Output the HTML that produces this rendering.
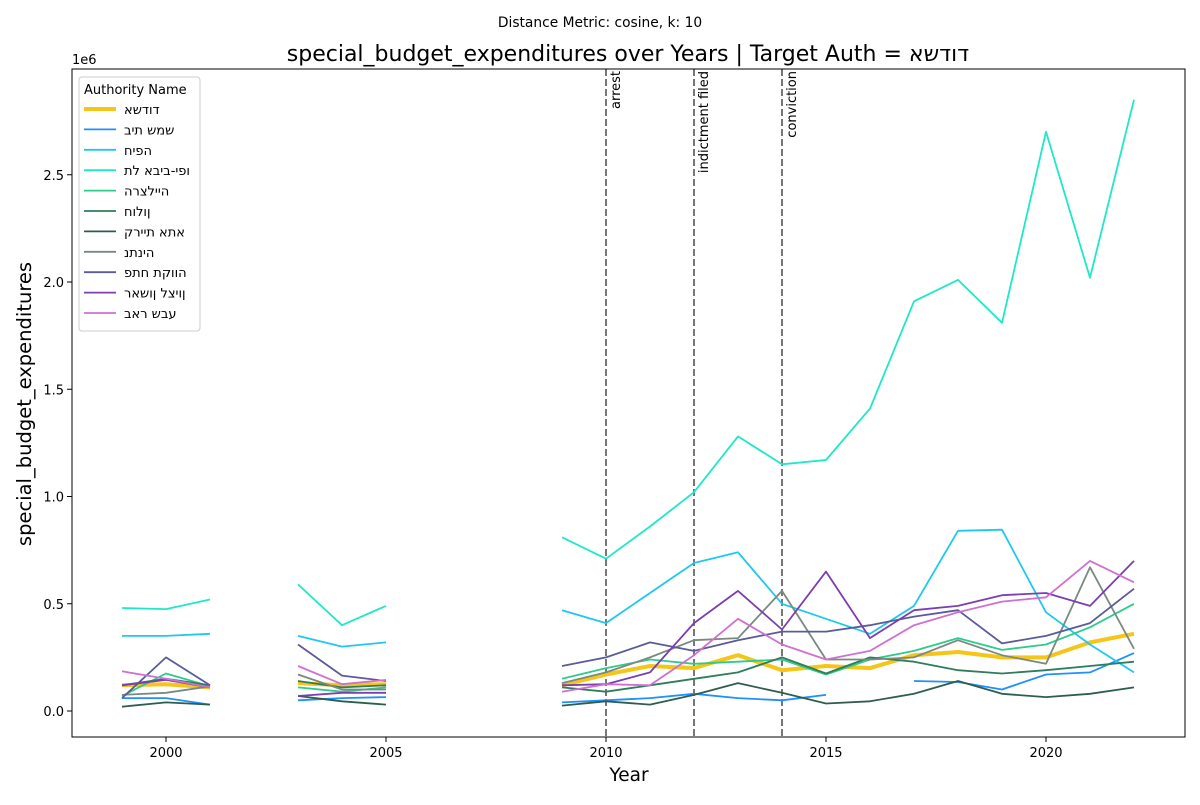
<!DOCTYPE html>
<html><head><meta charset="utf-8"><style>
body{margin:0;background:#fff;}
svg{font-family:"DejaVu Sans","Liberation Sans",sans-serif;}
.heb{unicode-bidi:bidi-override;direction:ltr;}
</style></head><body>
<svg id="chart" width="1200" height="800" xmlns="http://www.w3.org/2000/svg"></svg>
<script>
const years=[1999,2000,2001,2003,2004,2005,2009,2010,2011,2012,2013,2014,2015,2016,2017,2018,2019,2020,2021,2022];
const seriesNames=["אשדוד","בית שמש","חיפה","תל אביב-יפו","הרצלייה","חולון","קריית אתא","נתניה","פתח תקווה","ראשון לציון","באר שבע"];
const seriesColors=["#f5c518","#1e90ff","#1ec8f0","#1de9c8","#2ecc8a","#2e7d5b","#2f5e4e","#7a8a80","#5b5b9b","#7b3fb0","#d070d0"];
const ashdod=[0.12,0.125,0.11,0.13,0.12,0.125,0.12,0.17,0.21,0.20,0.26,0.19,0.21,0.20,0.26,0.275,0.25,0.25,0.32,0.36];
const beitShemesh=[0.06,0.06,0.03,0.05,0.06,0.065,0.04,0.05,0.06,0.08,0.06,0.05,0.075,null,0.14,0.135,0.10,0.17,0.18,0.27];
const haifa=[0.35,0.35,0.36,0.35,0.30,0.32,0.47,0.41,0.55,0.69,0.74,0.50,0.43,0.36,0.49,0.84,0.845,0.46,0.31,0.18];
const telAviv=[0.48,0.475,0.52,0.59,0.40,0.49,0.81,0.71,0.86,1.02,1.28,1.15,1.17,1.41,1.91,2.01,1.81,2.70,2.02,2.85];
const herzliya=[0.07,0.175,0.115,0.11,0.09,0.11,0.15,0.20,0.24,0.22,0.23,0.24,0.17,0.24,0.28,0.34,0.285,0.31,0.39,0.50];
const holon=[0.12,0.15,0.12,0.14,0.11,0.12,0.11,0.09,0.12,0.15,0.18,0.25,0.175,0.25,0.23,0.19,0.175,0.19,0.21,0.23];
const kiryatAta=[0.02,0.04,0.03,0.07,0.045,0.03,0.025,0.045,0.03,0.075,0.13,0.085,0.035,0.045,0.08,0.14,0.08,0.065,0.08,0.11];
const netanya=[0.075,0.085,0.115,0.17,0.10,0.10,0.13,0.18,0.25,0.33,0.34,0.56,0.24,0.24,0.25,0.33,0.26,0.22,0.67,0.29];
const petahTikva=[0.06,0.25,0.12,0.31,0.165,0.14,0.21,0.25,0.32,0.28,0.33,0.37,0.37,0.40,0.44,0.47,0.315,0.35,0.41,0.57];
const rishon=[0.12,0.145,0.11,0.07,0.085,0.085,0.12,0.125,0.18,0.41,0.56,0.38,0.65,0.34,0.47,0.49,0.54,0.55,0.49,0.70];
const beerSheva=[0.185,0.15,0.11,0.21,0.125,0.145,0.09,0.125,0.12,0.26,0.43,0.31,0.24,0.28,0.40,0.46,0.51,0.53,0.70,0.60];
const seriesValues=[ashdod,beitShemesh,haifa,telAviv,herzliya,holon,kiryatAta,netanya,petahTikva,rishon,beerSheva];
const xTicks=[2000,2005,2010,2015,2020];
const yTicks=[0,0.5,1.0,1.5,2.0,2.5];
const yTickLabels=["0.0","0.5","1.0","1.5","2.0","2.5"];
const events=[2010,2012,2014];
const eventLabels=["arrest","indictment filed","conviction"];

const svg=document.getElementById('chart');
const NS='http://www.w3.org/2000/svg';
const L=72,R=1185,T=69,B=737;
const xS=y=>166+(y-2000)*44;
const yS=v=>711-v*214.5;
function mk(tag,attrs,parent){const e=document.createElementNS(NS,tag);for(const k in attrs)e.setAttribute(k,attrs[k]);(parent||svg).appendChild(e);return e;}
function txt(s,attrs){const e=mk('text',attrs);e.textContent=s;return e;}

let t=txt("Distance Metric: cosine, k: 10",{x:600,y:27,'text-anchor':'middle','font-size':13.8});


t=txt("special_budget_expenditures over Years | Target Auth = אשדוד",{x:628,y:61,'text-anchor':'middle','font-size':22,'class':'heb'});


t=txt("1e6",{x:72,y:64,'font-size':13});



xTicks.forEach(v=>{
  const x=xS(v);
  const l=mk('line',{x1:x,x2:x,y1:B,y2:B+5,stroke:'#000'});
  
  
  const tt=txt(String(v),{x:x,y:B+20,'text-anchor':'middle','font-size':13});
  
  
});
yTicks.forEach((v,i)=>{
  const y=yS(v);
  const l=mk('line',{x1:L-5,x2:L,y1:y,y2:y,stroke:'#000'});
  
  
  const tt=txt(yTickLabels[i],{x:L-8,y:y+5,'text-anchor':'end','font-size':13});
  
  
});
t=txt("Year",{x:629,y:781,'text-anchor':'middle','font-size':18.5});


t=txt("special_budget_expenditures",{x:31,y:404,'text-anchor':'middle','font-size':19.5,transform:'rotate(-90 31 404)'});



events.forEach((ev,i)=>{
  const x=xS(ev);
  const l=mk('line',{x1:x,x2:x,y1:T,y2:B,stroke:'#777','stroke-width':2,'stroke-dasharray':'7,3'});
  
  
  const tt=txt(eventLabels[i],{x:x+14,y:T+2,'font-size':13,transform:`rotate(-90 ${x+14} ${T+2})`,'text-anchor':'end'});
  
  
});

seriesValues.forEach((vals,si)=>{
  let d='',pen=false;
  vals.forEach((v,i)=>{
    if(v===null||(i>0&&years[i]-years[i-1]>1)){pen=false;}
    if(v===null)return;
    d+=(pen?'L':'M')+xS(years[i]).toFixed(1)+','+yS(v).toFixed(1);
    pen=true;
  });
  const p=mk('path',{d:d,fill:'none',stroke:seriesColors[si],'stroke-width':si===0?4:1.8,'stroke-linejoin':'round'});
  
  
});

const fr=mk('rect',{x:L,y:T,width:R-L,height:B-T,fill:'none',stroke:'#000','stroke-width':1});



const lg=mk('g',{});


const lb=mk('rect',{x:79,y:77,width:121,height:254,rx:3,fill:'#fff','fill-opacity':0.85,stroke:'#ccc'},lg);


t=txt("Authority Name",{x:84,y:94,'font-size':13});


seriesNames.forEach((n,i)=>{
  const y=109+i*20.4;
  const l=mk('line',{x1:84,x2:116,y1:y,y2:y,stroke:seriesColors[i],'stroke-width':i===0?4:1.8});
  
  
  const tt=txt(n,{x:124,y:y+5,'font-size':13,'class':'heb'});
  
  
});
</script>
</body></html>
